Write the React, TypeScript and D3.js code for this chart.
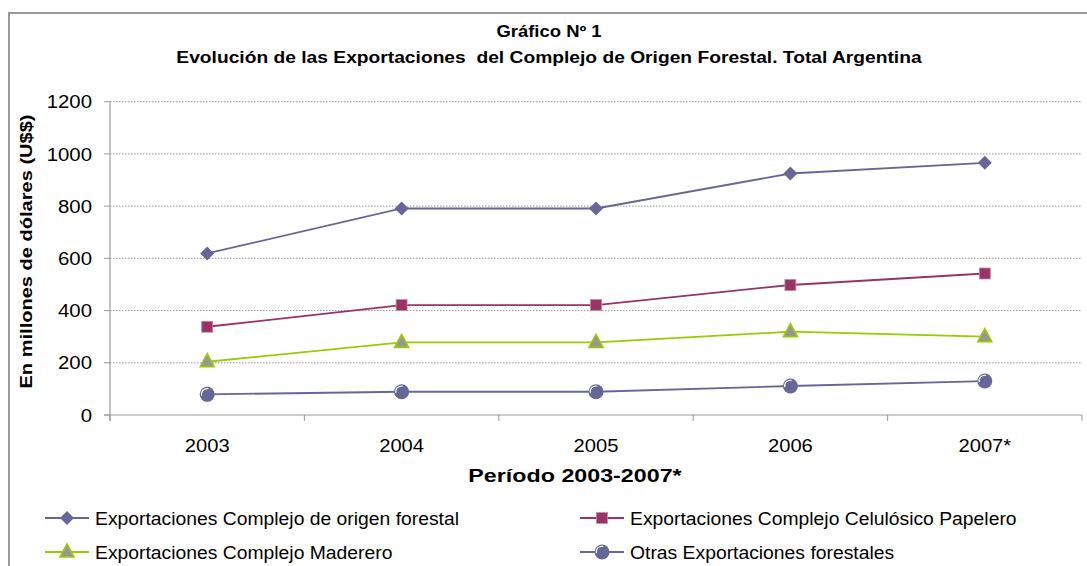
import React from "react";
import * as d3 from "d3";

const categories = ["2003", "2004", "2005", "2006", "2007*"];
const origenForestal = [619, 791, 791, 925, 966];
const celulosicoPapelero = [338, 421, 421, 498, 542];
const maderero = [204, 278, 278, 319, 300];
const otras = [79, 89, 89, 111, 130];
const yTicks = [0, 200, 400, 600, 800, 1000, 1200];

const seriesNames = [
  "Exportaciones Complejo de origen forestal",
  "Exportaciones Complejo Celulósico Papelero",
  "Exportaciones Complejo Maderero",
  "Otras Exportaciones forestales",
];

const W = 1087;
const H = 566;
const left = 110;
const right = 1082;
const top = 101.7;
const bottom = 415;
const FONT = "'Liberation Sans', Arial, sans-serif";

type TProps = {
  x: number;
  y: number;
  sx?: number;
  rot?: number;
  size: number;
  bold?: boolean;
  anchor?: "start" | "middle" | "end";
  dy?: string;
  children: React.ReactNode;
};

function T({ x, y, sx = 1, rot = 0, size, bold, anchor = "start", dy, children }: TProps) {
  return (
    <text
      transform={`translate(${x},${y}) rotate(${rot}) scale(${sx},1)`}
      textAnchor={anchor}
      fontSize={size}
      fontWeight={bold ? "bold" : "normal"}
      fill="#000"
      dy={dy}
      style={{ whiteSpace: "pre" }}
    >
      {children}
    </text>
  );
}

function Marker({ kind, x, y }: { kind: string; x: number; y: number }) {
  if (kind === "diamond") {
    const s = 7;
    return <path d={`M${x},${y - s}L${x + s},${y}L${x},${y + s}L${x - s},${y}Z`} fill="#666699" />;
  }
  if (kind === "square") {
    const s = 5.5;
    return <rect x={x - s} y={y - s} width={2 * s} height={2 * s} fill="#993366" stroke="#c98aa8" strokeWidth={0.8} />;
  }
  if (kind === "triangle") {
    const w = 7, h = 13;
    return (
      <path
        d={`M${x},${y - h * 0.62}L${x + w},${y + h * 0.38}L${x - w},${y + h * 0.38}Z`}
        fill="#969696"
        stroke="#99cc00"
        strokeWidth={1.6}
        strokeLinejoin="miter"
      />
    );
  }
  const r = 7.5;
  const a = 5.6;
  return (
    <g>
      <circle cx={x} cy={y} r={r} fill="#666699" />
      <path
        d={`M${x - a},${y + 1.2}A${a},${a} 0 0 1 ${x + 1.2},${y - a}`}
        fill="none"
        stroke="#ffffff"
        strokeWidth={1.1}
      />
    </g>
  );
}

export default function App() {
  const x = d3.scaleBand<string>().domain(categories).range([left, right]);
  const y = d3.scaleLinear().domain([0, 1200]).range([bottom, top]);
  const cx = (c: string) => (x(c) as number) + x.bandwidth() / 2;

  const series = [
    { name: seriesNames[0], values: origenForestal, color: "#666699", kind: "diamond" },
    { name: seriesNames[1], values: celulosicoPapelero, color: "#993366", kind: "square" },
    { name: seriesNames[2], values: maderero, color: "#99cc00", kind: "triangle" },
    { name: seriesNames[3], values: otras, color: "#666699", kind: "circle" },
  ];

  const line = d3
    .line<number>()
    .x((_, i) => cx(categories[i]))
    .y((v) => y(v));

  const legendPos = [
    { lx: 45, tx: 95, ly: 518 },
    { lx: 580, tx: 630, ly: 518 },
    { lx: 45, tx: 95, ly: 552 },
    { lx: 580, tx: 630, ly: 552 },
  ];

  const boundaries = [...categories.map((c) => x(c) as number), right];

  return (
    <svg
      width={W}
      height={H}
      style={{ position: "absolute", left: 0, top: 0, fontFamily: FONT }}
      xmlns="http://www.w3.org/2000/svg"
    >
      <rect x={0} y={0} width={W} height={H} fill="#ffffff" />
      <rect x={9} y={13} width={W + 10} height={H + 10} fill="none" stroke="#999999" strokeWidth={2} />

      <T x={549} y={36.5} size={16.5} bold anchor="middle" sx={1.12}>
        Gráfico Nº 1
      </T>
      <T x={549} y={63} size={16.5} bold anchor="middle" sx={1.165}>
        {"Evolución de las Exportaciones  del Complejo de Origen Forestal. Total Argentina"}
      </T>

      {yTicks.map((t) => (
        <g key={t}>
          {t > 0 && (
            <line x1={left} x2={right} y1={y(t)} y2={y(t)} stroke="#9a9a9a" strokeWidth={1} strokeDasharray="1.5,1.5" />
          )}
          <line x1={left - 6} x2={left} y1={y(t)} y2={y(t)} stroke="#999999" strokeWidth={1} />
          <T x={92} y={y(t)} dy="0.36em" anchor="end" size={18.5} sx={1.1}>
            {String(t)}
          </T>
        </g>
      ))}

      <line x1={left} x2={left} y1={top} y2={bottom + 6} stroke="#999999" strokeWidth={1.2} />
      <line x1={left - 6} x2={right} y1={bottom} y2={bottom} stroke="#999999" strokeWidth={1.2} />
      {boundaries.map((b, i) => (
        <line key={i} x1={b} x2={b} y1={bottom} y2={bottom + 6} stroke="#999999" strokeWidth={1} />
      ))}
      {categories.map((c) => (
        <T key={c} x={cx(c)} y={452} anchor="middle" size={18.5} sx={1.09}>
          {c}
        </T>
      ))}

      <T x={575} y={482} anchor="middle" size={17.5} bold sx={1.33}>
        Período 2003-2007*
      </T>
      <T x={32} y={251.5} rot={-90} anchor="middle" size={17} bold sx={1.18}>
        En millones de dólares (U$$)
      </T>

      {series.map((s) => (
        <path key={s.name} d={line(s.values) || ""} fill="none" stroke={s.color} strokeWidth={1.8} />
      ))}
      {series.map((s) =>
        s.values.map((v, i) => <Marker key={s.name + i} kind={s.kind} x={cx(categories[i])} y={y(v)} />)
      )}

      {series.map((s, i) => {
        const p = legendPos[i];
        return (
          <g key={"lg" + i}>
            <line x1={p.lx} x2={p.lx + 44} y1={p.ly} y2={p.ly} stroke={s.color} strokeWidth={1.8} />
            <Marker kind={s.kind} x={p.lx + 22} y={p.ly} />
            <T x={p.tx} y={p.ly} dy="0.36em" size={18.5} sx={1.045}>
              {s.name}
            </T>
          </g>
        );
      })}
    </svg>
  );
}
